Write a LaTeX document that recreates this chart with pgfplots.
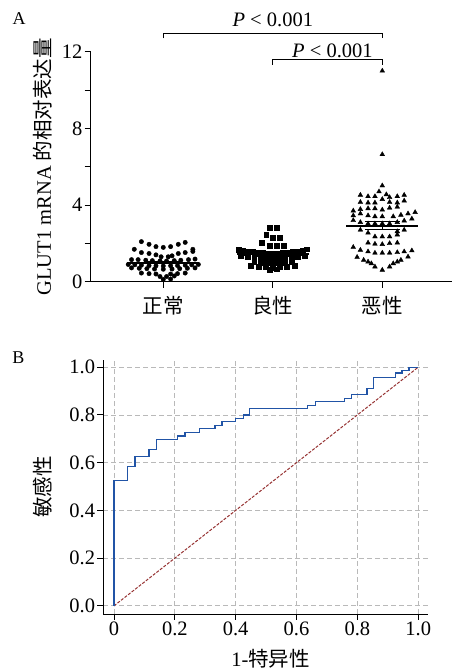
\documentclass[border=0pt]{standalone}
\usepackage{fontspec}
\setmainfont{Liberation Serif}
\newfontfamily\cjk{Noto Sans CJK SC}
\usepackage{pgfplots}
\pgfplotsset{compat=1.18}
\definecolor{rocblue}{RGB}{33,84,166}
\definecolor{diagred}{RGB}{150,50,50}
\definecolor{gridgray}{RGB}{185,185,185}
\newcommand{\fs}{\fontsize{20.5}{24}\selectfont}

\begin{document}
\begin{tikzpicture}
\path[use as bounding box] (0,0) rectangle (452pt,671pt);
\node[font=\fontsize{18}{20}\selectfont] at (19pt,652pt) {A};
\node[font=\fontsize{18}{20}\selectfont] at (18.5pt,313pt) {B};

% ---- panel A: scatter of relative expression
\begin{axis}[
  at={(90.7pt,389.3pt)}, anchor=south west,
  scale only axis, width=361pt, height=230pt,
  xmin=-0.663, xmax=2.634, ymin=0, ymax=12,
  axis x line=bottom, axis y line=left,
  axis line style={-, line width=0.9pt},
  xtick={0,1,2}, xticklabels={{\cjk 正常},{\cjk 良性},{\cjk 恶性}},
  ytick={0,4,8,12}, yticklabels={0,4,8,12},
  minor ytick={2,6,10},
  tick align=outside, major tick length=6pt, minor tick length=6pt,
  tick style={black, line width=0.9pt},
  ticklabel style={font=\fs, inner sep=2pt},
  xticklabel style={yshift=-6pt},
  every axis y label/.style={at={(axis description cs:-0.132,0.5)}, rotate=90, anchor=center, font=\fs},
  ylabel={GLUT1 mRNA {\cjk 的相对表达量}},
  clip=false,
]
\addplot[only marks, mark=*, mark size=2.2pt, black] coordinates {
(-0.20,2.09)(-0.13,1.95)(-0.067,1.83)(0,1.79)(0.067,1.83)(0.137,1.95)(0.20,2.05)
(-0.265,1.69)(0.27,1.69)
(-0.20,1.52)(-0.13,1.47)(-0.067,1.40)(0.137,1.47)(0.20,1.52)(0.27,1.58)
(-0.02,1.30)(0.045,1.30)(0.08,1.35)
(-0.29,1.15)(-0.23,1.15)(-0.16,1.12)(-0.10,1.10)(-0.03,1.08)(0.03,1.08)(0.10,1.10)(0.16,1.12)(0.23,1.15)(0.29,1.18)
(-0.32,0.90)(-0.26,0.88)(-0.20,0.86)(-0.13,0.84)(-0.067,0.83)(0,0.82)(0.067,0.83)(0.13,0.84)(0.20,0.86)(0.26,0.88)(0.32,0.90)
(-0.29,0.72)(-0.22,0.70)(-0.15,0.68)(-0.08,0.66)(0,0.65)(0.08,0.66)(0.15,0.68)(0.22,0.70)(0.29,0.72)
(-0.20,0.45)(-0.13,0.42)(-0.067,0.40)(0.067,0.40)(0.13,0.42)(0.20,0.45)
(-0.03,0.27)(0.03,0.27)(0.10,0.30)
(0,0.12)(0.067,0.14)
};
\addplot[only marks, mark=square*, mark size=2.35pt, black] coordinates {
(0.97,2.83)(1.035,2.80)(0.94,2.47)(1.0,2.30)(1.065,2.30)(0.90,2.05)
(0.97,1.86)(1.035,1.86)(1.10,1.86)
(0.69,1.68)(0.73,1.63)(0.77,1.59)(0.82,1.55)(0.87,1.52)(0.91,1.50)(0.955,1.48)(1.0,1.47)
(1.045,1.48)(1.09,1.50)(1.13,1.52)(1.18,1.55)(1.23,1.59)(1.27,1.63)(1.31,1.70)
(0.75,1.52)(0.85,1.44)(0.93,1.40)(1.02,1.38)(1.07,1.40)(1.15,1.44)(1.25,1.52)
(0.71,1.35)(0.77,1.31)(0.83,1.28)(0.89,1.26)(0.945,1.24)(1.0,1.24)(1.055,1.24)(1.11,1.26)(1.17,1.28)(1.23,1.31)(1.29,1.35)
(0.83,1.02)(0.89,1.0)(0.945,0.98)(1.0,0.98)(1.055,0.98)(1.11,1.0)(1.17,1.02)
(0.80,0.82)(0.87,0.78)(0.935,0.75)(1.0,0.73)(1.065,0.75)(1.13,0.78)(1.2,0.85)
(0.97,0.62)(1.035,0.65)
};
\addplot[only marks, mark=triangle*, mark size=2.7pt, black] coordinates {
(2,11.0)(2,6.64)(2,5.01)
(1.80,4.52)(1.87,4.45)(1.933,4.45)(1.97,4.70)(2.037,4.55)(2.067,4.40)(2.137,4.45)(2.20,4.52)
(1.80,4.15)(1.87,4.12)(1.933,4.12)(2.0,4.30)(2.067,4.15)(2.137,4.12)(2.20,4.22)
(1.735,3.70)(1.80,3.78)(1.87,3.82)(1.933,3.82)(2.0,3.75)(2.067,3.85)(2.137,3.90)
(1.735,3.45)(1.80,3.55)(1.87,3.45)(1.933,3.40)(2.0,3.40)(2.10,3.40)(2.17,3.48)(2.235,3.55)(2.30,3.62)
(1.735,3.20)(1.80,3.10)(1.87,3.03)(1.933,3.03)(2.0,3.03)(2.067,3.03)(2.137,3.10)(2.20,3.18)(2.27,3.28)
(1.80,2.70)(1.87,2.55)(2.137,2.62)(2.20,2.70)
(1.933,2.35)(2.0,2.35)(2.067,2.35)(2.137,2.45)
(1.87,2.03)(1.933,1.97)(2.0,1.95)(2.067,2.0)(2.137,2.03)
(1.735,1.80)(1.80,1.65)(1.87,1.57)(1.933,1.50)(2.0,1.50)(2.067,1.50)(2.137,1.53)(2.20,1.57)(2.27,1.62)
(1.77,1.28)(1.83,1.13)(1.87,1.04)(1.90,0.95)(1.933,0.78)(2.0,0.61)(2.067,0.78)(2.10,0.95)(2.137,1.04)(2.17,1.13)(2.235,1.30)
};
% means
\addplot[black, line width=2pt] coordinates {(-0.33,1.0)(0.33,1.0)};
\addplot[black, line width=2.4pt] coordinates {(0.67,1.45)(1.33,1.45)};
\addplot[black, line width=2pt] coordinates {(1.67,2.92)(2.33,2.92)};
% SEM
\addplot[black, line width=0.9pt] coordinates {(1.84,3.12)(2.16,3.12)};
\addplot[black, line width=0.9pt] coordinates {(1.84,2.73)(2.16,2.73)};
\addplot[black, line width=0.9pt] coordinates {(2,2.73)(2,3.12)};
\addplot[black, line width=0.9pt] coordinates {(-0.17,1.07)(0.17,1.07)};
\addplot[black, line width=0.9pt] coordinates {(-0.17,0.93)(0.17,0.93)};
% brackets
\draw[line width=0.9pt] (axis cs:0,12.70) -- (axis cs:0,12.94) -- (axis cs:2,12.94) -- (axis cs:2,12.70);
\draw[line width=0.9pt] (axis cs:1,11.33) -- (axis cs:1,11.57) -- (axis cs:2,11.57) -- (axis cs:2,11.33);
\node[anchor=base, font=\fs] at (axis cs:1,13.34) {\textit{P} < 0.001};
\node[anchor=base, font=\fs] at (axis cs:1.545,11.72) {\textit{P} < 0.001};
\end{axis}

% ---- panel B: ROC curve
\begin{axis}[
  at={(103.3pt,57pt)}, anchor=south west,
  scale only axis, width=324.4pt, height=254pt,
  xmin=-0.035, xmax=1.031, ymin=-0.034, ymax=1.03,
  axis x line=bottom, axis y line=left,
  axis line style={-, line width=0.9pt},
  xtick={0,0.2,0.4,0.6,0.8,1}, xticklabels={0,0.2,0.4,0.6,0.8,1.0},
  ytick={0,0.2,0.4,0.6,0.8,1}, yticklabels={0.0,0.2,0.4,0.6,0.8,1.0},
  grid=major, grid style={gridgray, line width=0.8pt, dash pattern=on 5pt off 3pt},
  tick align=outside, major tick length=6pt,
  tick style={black, line width=0.9pt},
  ticklabel style={font=\fs, inner sep=2pt},
  every axis y label/.style={at={(axis description cs:-0.186,0.5)}, rotate=90, anchor=center, font=\fs},
  every axis x label/.style={at={(axis description cs:0.516,-0.177)}, anchor=center, font=\fs},
  ylabel={\cjk 敏感性},
  xlabel={1-{\cjk 特异性}},
  clip=false,
]
\addplot[diagred, line width=1pt, dash pattern=on 3pt off 1.5pt] coordinates {(0,0)(1,1)};
\addplot[rocblue, line width=1.3pt, const plot mark left] coordinates {
(0,0)(0,0.524)(0.044,0.584)(0.069,0.627)(0.115,0.656)(0.140,0.698)(0.208,0.711)
(0.233,0.726)(0.281,0.742)(0.332,0.757)(0.355,0.772)(0.400,0.784)(0.425,0.800)
(0.445,0.828)(0.635,0.838)(0.662,0.855)(0.758,0.869)(0.780,0.885)(0.832,0.912)
(0.854,0.957)(0.926,0.975)(0.947,0.986)(0.970,1.0)(1.0,1.0)
};
\end{axis}
\end{tikzpicture}
\end{document}
